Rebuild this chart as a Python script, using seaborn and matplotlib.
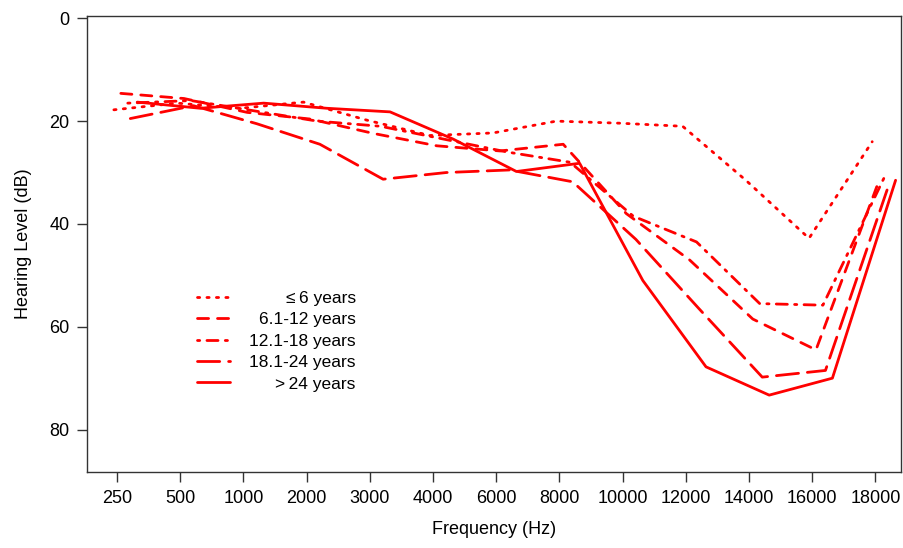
import pandas as pd
import seaborn as sns
import matplotlib.pyplot as plt

# audiogram data (dB HL)
freq_labels = ["250", "500", "1000", "2000", "3000", "4000", "6000",
               "8000", "10000", "12000", "14000", "16000", "18000"]
groups = ["\u2264\u20096 years", "6.1-12 years", "12.1-18 years",
          "18.1-24 years", ">\u200924 years"]

age_le6 = [17.8, 16.5, 17.5, 16.3, 19.8, 22.8, 22.3, 20.0, 20.4, 21.0, 31.5, 42.8, 24.0]
age_6_12 = [14.6, 15.6, 18.3, 19.6, 22.4, 24.8, 25.8, 24.5, 38.0, 47.0, 58.5, 64.5, 31.5]
age_12_18 = [16.5, 16.0, 18.0, 20.0, 21.0, 23.5, 26.0, 28.0, 38.5, 43.5, 55.5, 55.8, 30.2]
age_18_24 = [19.5, 17.0, 20.5, 24.5, 31.3, 30.0, 29.5, 31.8, 43.0, 56.5, 69.8, 68.5, 32.5]
age_gt24 = [16.3, 17.5, 16.5, 17.5, 18.2, 23.5, 29.8, 28.2, 51.0, 67.8, 73.3, 70.0, 31.5]

# small horizontal dodge per group so lines don't sit on top of each other
dodge = [-0.05, 0.06, 0.17, 0.21, 0.32]
dash_styles = [(0.8, 2.6), (4, 3.2), (0.8, 2.6, 4, 2.6), (8, 3.2), ""]

rows = []
for g, vals, off in zip(groups, [age_le6, age_6_12, age_12_18, age_18_24, age_gt24], dodge):
    for i, v in enumerate(vals):
        rows.append({"group": g, "pos": i + off, "level": v})
df = pd.DataFrame(rows)

sns.set_style("ticks")
plt.rcParams["font.family"] = ["Liberation Sans", "DejaVu Sans"]
plt.rcParams["text.color"] = "black"
plt.rcParams["axes.labelcolor"] = "black"
plt.rcParams["xtick.color"] = "black"
plt.rcParams["ytick.color"] = "black"

fig = plt.figure(figsize=(9.04, 5.48), dpi=100)
ax = fig.add_axes([0.0966, 0.1392, 0.9004, 0.8316])

sns.lineplot(data=df, x="pos", y="level", hue="group", style="group",
             hue_order=groups, style_order=groups, palette=["#ff0000"] * 5,
             dashes=dict(zip(groups, dash_styles)), linewidth=2.0,
             estimator=None, sort=False, legend=False, ax=ax)
for ln in ax.lines:
    ln.set_dash_capstyle("round")
    ln.set_solid_capstyle("round")

ax.set_xlim(-0.47, 12.41)
ax.set_ylim(88.2, -0.45)
ax.set_xticks(range(len(freq_labels)))
ax.set_xticklabels(freq_labels)
ax.set_yticks([0, 20, 40, 60, 80])
ax.tick_params(axis="both", length=7, width=1, color="#333333", labelcolor="black",
               labelsize=13, pad=6)
for s in ax.spines.values():
    s.set_color("#333333")
    s.set_linewidth(1)

ax.set_xlabel("Frequency (Hz)", fontsize=13, labelpad=10, color="black")
ax.set_ylabel("Hearing Level (dB)", fontsize=13, labelpad=12, color="black")

leg = ax.legend(ax.lines, groups, loc="upper left", bbox_to_anchor=(0.1348, 0.397),
                frameon=False, fontsize=12.5, handlelength=1.9, handletextpad=1.1,
                labelspacing=0.36, borderpad=0, borderaxespad=0)
for t in leg.get_texts():
    t.set_color("black")

# right-align the legend labels like the original
renderer = fig.canvas.get_renderer()
widths = [t.get_window_extent(renderer).width for t in leg.get_texts()]
for t, w in zip(leg.get_texts(), widths):
    t.set_position((max(widths) - w, 0))

fig.savefig("out.png", dpi=100)
